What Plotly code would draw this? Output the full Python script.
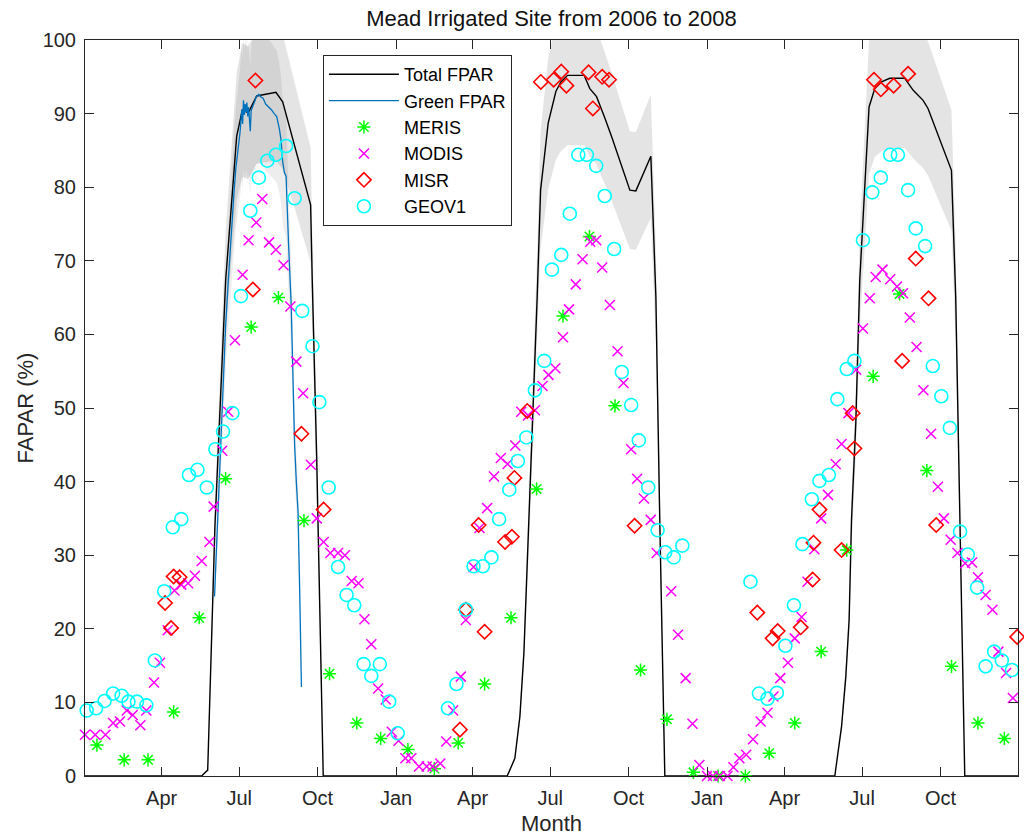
import pandas as pd
import plotly.graph_objects as go

# ---------------- data (x = days since 2006-01-01) ----------------
START = "2006-01-01"

total_day = [0, 136.9, 144, 152.5, 165.1, 178, 184.6, 191.6, 201.5, 224.1, 232, 244.4, 264.8, 266.7, 271.9, 279.6,
             495.5, 504.5, 510.4, 515.1, 520.6, 530.7, 534.7, 543.6, 552.6, 558.5, 566.4, 585.8, 592.5, 600.4, 610.1,
             618, 639.5, 646.5, 664.1, 670, 674.7, 680.5,
             880, 887.9, 892.9, 896.8, 899.6, 904.6, 909.3, 913.2, 920.2, 926.9, 934.8, 944.5, 962.1, 971.8, 983.6,
             989.4, 1003.2, 1016.9, 1021.9, 1026.6, 1032.5, 1095]
total_fpar = [0, 0, 0.8, 34, 67.4, 86.9, 90.5, 90.1, 92.4, 92.9, 91.6, 86.4, 77.6, 67.4, 43.4, 0,
              0, 2.4, 8.1, 16.7, 33.4, 65.1, 79.6, 88.7, 93.0, 94.3, 95.2, 95.2, 93.4, 92.3, 89.4,
              86.9, 79.6, 79.5, 84.2, 65.1, 33.9, 0,
              0, 6.7, 13.5, 21.2, 34.8, 47.9, 67.4, 76.4, 90.9, 93.4, 94.3, 94.8, 94.8, 93.2, 91.8,
              90.7, 86.4, 82.3, 65.1, 33.9, 0, 0]
total_unc = [0, 0, 0.1, 3.4, 6.7, 8.7, 9.1, 9.0, 9.2, 9.3, 9.2, 8.6, 7.8, 6.7, 4.3, 0,
             0, 0.2, 0.8, 1.7, 3.3, 6.5, 8.0, 8.9, 9.3, 9.4, 9.5, 9.5, 9.3, 9.2, 8.9,
             8.7, 8.0, 8.0, 8.4, 6.5, 3.4, 0,
             0, 0.7, 1.4, 2.1, 3.5, 4.8, 6.7, 7.6, 9.1, 9.3, 9.4, 9.5, 9.5, 9.3, 9.2,
             9.1, 8.6, 8.2, 6.5, 3.4, 0, 0]

green_day = [152, 154, 156, 158, 161, 163, 165, 168, 170, 172, 175, 177, 180, 182, 184, 185, 186, 187, 188, 189,
             190, 191, 192, 193, 194, 195, 197, 199, 201, 204, 207, 209, 212, 215, 219, 222, 225, 228, 230, 232,
             234, 236, 237, 239, 242, 244, 246, 248, 250, 252, 254]
green_fpar = [24.4, 30, 36, 42, 50, 56, 61, 67, 71, 75, 79.5, 82.5, 85.5, 87.5, 90.5, 88.6, 91.8, 89.8, 91.3, 90.2,
              91.5, 89.6, 90.9, 88.4, 87.6, 90.4, 90.9, 91.6, 92.3, 92.6, 92.2, 92.1, 91.3, 91.0, 90.5, 90.0,
              89.6, 88.0, 86.5, 83.5, 82.0, 81.5, 78.0, 72.0, 64.0, 55.0, 45.0, 40.0, 36.0, 25.0, 12.1]
green_unc = [2.4, 3.0, 3.6, 4.2, 5.0, 5.6, 6.1, 6.7, 7.1, 7.5, 8.0, 8.3, 8.6, 8.8, 9.1, 8.9, 9.2, 9.0, 9.1, 9.0,
             9.2, 9.0, 9.1, 8.8, 8.8, 9.0, 9.1, 9.2, 9.2, 9.3, 9.2, 9.2, 9.1, 9.1, 9.1, 9.0,
             9.0, 8.8, 8.7, 8.4, 8.2, 8.2, 7.8, 7.2, 6.4, 5.5, 4.5, 4.0, 3.6, 2.5, 1.2]

meris_day = [14, 46, 74, 104, 134, 165, 195, 227, 257, 287, 319, 347, 379, 410, 438, 469, 500, 530, 561, 592,
             622, 652, 683, 714, 743, 775, 803, 833, 864, 894, 925, 956, 988, 1017, 1048, 1079]
meris_fpar = [4.2, 2.2, 2.2, 8.7, 21.5, 40.4, 61.0, 65.0, 34.7, 13.9, 7.2, 5.1, 3.6, 1.0, 4.5, 12.5, 21.5, 39.0,
              62.5, 73.3, 50.3, 14.4, 7.7, 0.5, 0.0, 0.0, 3.1, 7.2, 16.9, 30.7, 54.3, 65.5, 41.5, 14.9, 7.2, 5.1]

modis_day = [0, 12, 24, 33, 41, 49, 56, 65, 72, 81, 88, 97, 105, 113, 121, 129, 137, 146, 151, 161,
             168, 176, 185, 192, 201, 208, 216, 224, 233, 241, 248, 256, 265, 272, 280, 288, 297, 305, 313, 321,
             328, 336, 344, 353, 360, 368, 376, 383, 392, 401, 408, 417, 424, 432, 441, 447, 456, 463, 472, 480,
             488, 496, 505, 512, 520, 528, 537, 544, 552, 561, 568, 576, 584, 593, 600, 607, 616, 625, 632, 641,
             648, 656, 664, 671, 688, 696, 705, 713, 721, 730, 737, 745, 754, 761, 768, 776, 784, 793, 801, 808,
             816, 825, 833, 841, 848, 856, 864, 872, 881, 888, 896, 905, 913, 921, 928, 936, 945, 953, 960, 968,
             976, 984, 993, 1001, 1008, 1016, 1024, 1033, 1041, 1048, 1057, 1065, 1072, 1081, 1089]
modis_fpar = [5.6, 5.6, 5.6, 7.2, 7.4, 8.9, 8.3, 6.9, 8.9, 12.7, 15.4, 19.8, 25.2, 26.0, 26.2, 27.2, 29.2, 31.8, 36.6, 44.2,
              49.5, 59.2, 68.1, 72.8, 75.2, 78.4, 72.5, 71.5, 69.4, 63.8, 56.3, 52.0, 42.3, 35.0, 31.8, 30.3, 30.3, 30.0, 26.5, 26.2,
              21.3, 17.9, 11.9, 10.4, 6.0, 4.8, 2.4, 2.4, 1.3, 1.3, 1.3, 1.7, 4.7, 8.9, 13.5, 21.2, 28.4, 33.7, 36.4, 40.7,
              43.2, 42.4, 44.9, 49.5, 49.0, 49.7, 53.0, 54.5, 55.4, 59.6, 63.4, 66.8, 70.2, 72.6, 72.8, 69.1, 64.0, 57.7, 53.4, 44.4,
              40.4, 37.7, 34.8, 30.3, 25.1, 19.2, 13.3, 7.1, 1.5, 0.0, 0.0, 0.0, 0.0, 1.2, 2.4, 2.9, 5.0, 7.4, 8.6, 10.8,
              13.3, 15.4, 18.7, 21.6, 26.4, 30.8, 35.0, 38.2, 42.4, 45.1, 49.3, 55.2, 60.8, 64.9, 67.8, 68.8, 67.5, 66.5, 65.6, 62.3,
              58.3, 52.4, 46.5, 39.3, 35.0, 32.1, 30.3, 28.9, 29.0, 27.0, 24.6, 22.6, 16.9, 14.0, 10.6]

misr_day = [94, 101, 104, 111, 197, 200, 254, 280,
            440, 447, 462, 469, 493, 501, 504, 519, 535, 550, 559, 565, 591, 596, 607, 615, 645,
            789, 807, 813, 840, 854, 855, 862, 888, 901, 903, 926, 934, 949, 959, 966, 975, 990, 999, 1094]
misr_fpar = [23.5, 20.1, 27.1, 27.0, 66.1, 94.5, 46.5, 36.2,
             6.3, 22.6, 34.1, 19.6, 31.8, 32.5, 40.5, 49.6, 94.3, 94.6, 95.7, 93.8, 95.6, 90.7, 95.0, 94.6, 34.0,
             22.2, 18.7, 19.7, 20.2, 26.7, 31.7, 36.2, 30.7, 49.3, 44.5, 94.6, 93.3, 93.8, 56.4, 95.4, 70.3, 64.9, 34.1, 18.9]

geov1_day = [2, 13, 23, 33, 43, 51, 61, 72, 82, 93, 103, 113, 122, 132, 143, 153, 162, 173, 183, 194,
             204, 214, 224, 236, 246, 255, 267, 275, 286, 297, 307, 316, 327, 336, 346, 357, 367,
             426, 436, 447, 456, 467, 477, 486, 498, 508, 518, 528, 539, 548, 559, 569, 579, 589, 600,
             610, 621, 630, 641, 650, 661, 672, 681, 691, 701,
             781, 791, 801, 812, 822, 832, 842, 853, 862, 873, 883, 894, 903, 913, 924, 934, 945, 954,
             966, 975, 986, 995, 1005, 1015, 1027, 1036, 1047, 1057, 1067, 1076, 1088]
geov1_fpar = [8.9, 9.2, 10.2, 11.2, 10.9, 10.1, 10.1, 9.6, 15.7, 25.1, 33.8, 34.9, 40.9, 41.6, 39.2, 44.4, 46.8, 49.3, 65.2, 76.8,
              81.3, 83.6, 84.4, 85.6, 78.5, 63.2, 58.4, 50.8, 39.2, 28.4, 24.6, 23.2, 15.2, 13.6, 15.2, 10.1, 5.8,
              9.2, 12.5, 22.6, 28.5, 28.5, 29.7, 34.9, 38.9, 42.8, 46.0, 52.4, 56.4, 68.8, 70.8, 76.4, 84.4, 84.4, 82.9,
              78.8, 71.6, 54.9, 50.4, 45.6, 39.2, 33.4, 30.4, 29.7, 31.3,
              26.4, 11.2, 10.5, 11.3, 17.7, 23.2, 31.5, 37.6, 40.1, 40.9, 51.2, 55.3, 56.4, 72.8, 79.3, 81.3, 84.4, 84.4,
              79.6, 74.4, 72.0, 55.7, 51.6, 47.3, 33.2, 30.1, 25.6, 14.9, 16.9, 15.7, 14.4]

tick_dates = ["2006-04-01", "2006-07-01", "2006-10-01", "2007-01-01", "2007-04-01", "2007-07-01",
              "2007-10-01", "2008-01-01", "2008-04-01", "2008-07-01", "2008-10-01"]
tick_labels = ["Apr", "Jul", "Oct", "Jan", "Apr", "Jul", "Oct", "Jan", "Apr", "Jul", "Oct"]

# ---------------- helpers ----------------
t0 = pd.Timestamp(START)


def to_dates(days):
    return [t0 + pd.Timedelta(days=float(d)) for d in days]


for a, b in [(total_day, total_fpar), (total_day, total_unc), (green_day, green_fpar), (green_day, green_unc),
             (meris_day, meris_fpar), (modis_day, modis_fpar), (misr_day, misr_fpar), (geov1_day, geov1_fpar)]:
    assert len(a) == len(b), (len(a), len(b))

FONT = "Liberation Sans, Arial, Helvetica, sans-serif"
TXT = "#262626"

fig = go.Figure()

# uncertainty bands
band_fill = "rgba(0,0,0,0.105)"
tx = to_dates(total_day)
fig.add_trace(go.Scatter(x=tx, y=[v - u for v, u in zip(total_fpar, total_unc)], mode="lines",
                         line=dict(width=0, color="rgba(0,0,0,0)"), showlegend=False, hoverinfo="skip"))
fig.add_trace(go.Scatter(x=tx, y=[v + u for v, u in zip(total_fpar, total_unc)], mode="lines",
                         line=dict(width=0, color="rgba(0,0,0,0)"), fill="tonexty", fillcolor=band_fill,
                         showlegend=False, hoverinfo="skip"))
gx = to_dates(green_day)
fig.add_trace(go.Scatter(x=gx, y=[v - u for v, u in zip(green_fpar, green_unc)], mode="lines",
                         line=dict(width=0, color="rgba(0,0,0,0)"), showlegend=False, hoverinfo="skip"))
fig.add_trace(go.Scatter(x=gx, y=[v + u for v, u in zip(green_fpar, green_unc)], mode="lines",
                         line=dict(width=0, color="rgba(0,0,0,0)"), fill="tonexty", fillcolor="rgba(0,0,0,0.07)",
                         showlegend=False, hoverinfo="skip"))

# lines
fig.add_trace(go.Scatter(x=tx, y=total_fpar, mode="lines", name="Total FPAR",
                         line=dict(color="#000000", width=1.4)))
fig.add_trace(go.Scatter(x=gx, y=green_fpar, mode="lines", name="Green FPAR",
                         line=dict(color="#0072BD", width=1.3)))

# satellite products
fig.add_trace(go.Scatter(x=to_dates(meris_day), y=meris_fpar, mode="markers", name="MERIS", cliponaxis=False,
                         marker=dict(symbol="asterisk-open", size=11, color="#00FF00",
                                     line=dict(width=1.5, color="#00FF00"))))
fig.add_trace(go.Scatter(x=to_dates(modis_day), y=modis_fpar, mode="markers", name="MODIS", cliponaxis=False,
                         marker=dict(symbol="x-thin-open", size=10, color="#FF00FF",
                                     line=dict(width=1.5, color="#FF00FF"))))
fig.add_trace(go.Scatter(x=to_dates(misr_day), y=misr_fpar, mode="markers", name="MISR", cliponaxis=False,
                         marker=dict(symbol="diamond-open", size=11, color="#FF0000",
                                     line=dict(width=1.6, color="#FF0000"))))
fig.add_trace(go.Scatter(x=to_dates(geov1_day), y=geov1_fpar, mode="markers", name="GEOV1", cliponaxis=False,
                         marker=dict(symbol="circle-open", size=13, color="#00FFFF",
                                     line=dict(width=1.6, color="#00FFFF"))))

axis_common = dict(showline=True, linecolor=TXT, linewidth=1, mirror="ticks", ticks="inside",
                   ticklen=9, tickwidth=1, tickcolor=TXT, showgrid=False, zeroline=False,
                   tickfont=dict(family=FONT, size=20, color=TXT))

fig.update_layout(
    width=1024, height=839,
    margin=dict(l=85, r=6, t=40, b=63),
    paper_bgcolor="white", plot_bgcolor="white",
    font=dict(family=FONT, color=TXT),
    title=dict(text="Mead Irrigated Site from 2006 to 2008", x=0.5, xref="paper",
               y=1 - 18 / 839, yref="container", yanchor="middle", xanchor="center",
               font=dict(family=FONT, size=22, color="#111111")),
    xaxis=dict(type="date", range=["2006-01-01", "2008-12-31"], tickmode="array",
               tickvals=tick_dates, ticktext=tick_labels, ticklabelstandoff=4,
               title=dict(text="Month", font=dict(family=FONT, size=22, color=TXT), standoff=7),
               **axis_common),
    yaxis=dict(range=[0, 100], tickmode="array", tickvals=list(range(0, 101, 10)), ticklabelstandoff=4,
               title=dict(text="FAPAR (%)", font=dict(family=FONT, size=22, color=TXT), standoff=2),
               **axis_common),
    legend=dict(x=0.255, y=0.9796, xanchor="left", yanchor="top", bgcolor="white",
                bordercolor=TXT, borderwidth=1, itemwidth=70, traceorder="normal",
                font=dict(family=FONT, size=18, color="#000000"), tracegroupgap=0),
)

fig.write_html("out.html")
